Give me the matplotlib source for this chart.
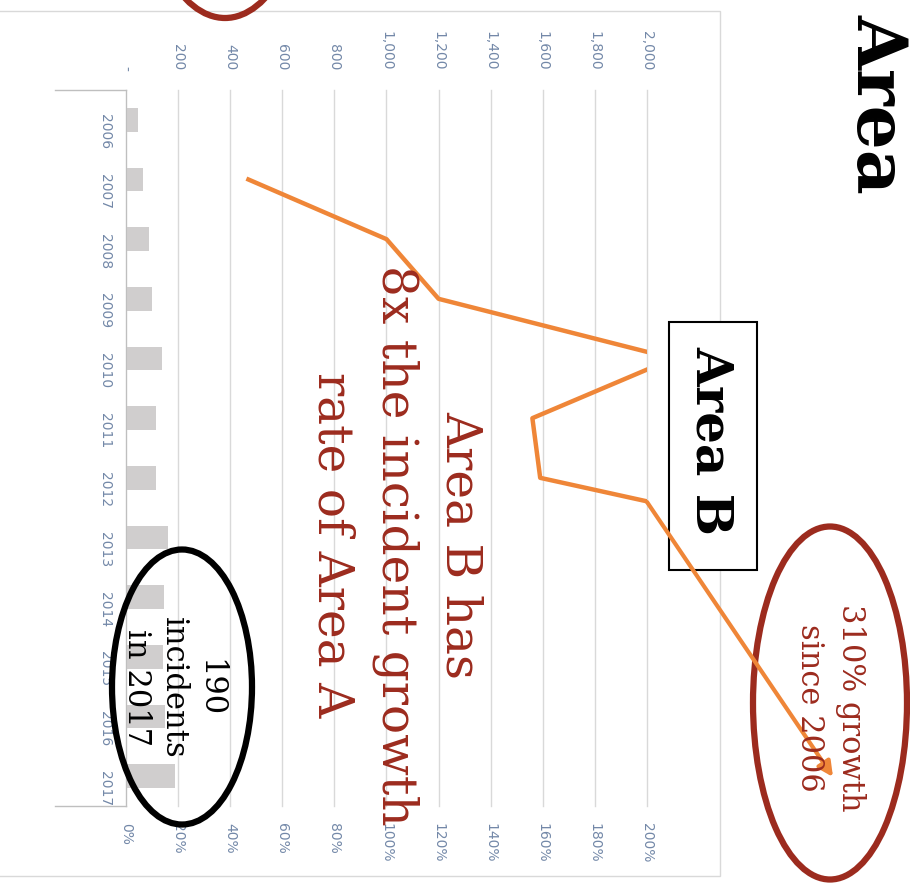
import numpy as np
import matplotlib
matplotlib.use("Agg")
import matplotlib.pyplot as plt
from matplotlib.patches import Ellipse, Rectangle, FancyArrowPatch

years = ["2006", "2007", "2008", "2009", "2010", "2011",
         "2012", "2013", "2014", "2015", "2016", "2017"]
incidents = [46, 65, 88, 100, 139, 117, 117, 163, 145, 142, 150, 190]
growth_pct = [np.nan, 47, 100, 120, 210, 156, 159, 263, 280, 290, 300, 310]

count_ticks = [0, 200, 400, 600, 800, 1000, 1200, 1400, 1600, 1800, 2000]
count_labels = ["-", "200", "400", "600", "800", "1,000", "1,200",
                "1,400", "1,600", "1,800", "2,000"]
pct_ticks = [0, 20, 40, 60, 80, 100, 120, 140, 160, 180, 200]
pct_labels = [f"{p}%" for p in pct_ticks]

orange = "#ef8638"
dark_red = "#9c2b1e"
tick_col = "#7388a8"
bar_col = "#d0cece"
grid_col = "#d9d9d9"

W, H = 910, 883
fig = plt.figure(figsize=(W / 100, H / 100), dpi=100)


def fx(px):
    return px / W


def fy(py):
    return 1 - py / H


# chart frame
fig.add_artist(Rectangle((fx(-5), fy(876)), fx(720) - fx(-5), (876 - 11) / H,
                         transform=fig.transFigure, fill=False,
                         ec=grid_col, lw=1))

ax = fig.add_axes([fx(126), fy(806), fx(647) - fx(126), (806 - 90) / H])
ypos = np.arange(len(years))
ax.barh(ypos, incidents, height=0.4, color=bar_col, zorder=2)
ax.set_xlim(0, 2000)
ax.set_ylim(len(years) - 0.5, -0.5)

# growth line on the percent axis
ax2 = ax.twiny()
ax2.plot(growth_pct, ypos, color=orange, lw=3.2, zorder=3)
ax2.set_xlim(0, 200)
ax2.xaxis.set_ticks_position("bottom")
ax2.set_xticks(pct_ticks)
ax2.set_xticklabels(pct_labels, rotation=-90)
ax2.tick_params(axis="x", length=0, pad=12, labelsize=10, labelcolor=tick_col,
                labelbottom=True, labeltop=False)
for s in ax2.spines.values():
    s.set_visible(False)

# count axis on top (after twiny, which resets it)
ax.xaxis.set_ticks_position("top")
ax.set_xticks(count_ticks)
ax.set_xticklabels(count_labels, rotation=-90)
ax.set_yticks(ypos)
ax.set_yticklabels(years, rotation=-90)
ax.tick_params(axis="x", length=0, pad=14, labelsize=10, labelcolor=tick_col,
               labeltop=True, labelbottom=False)
ax.tick_params(axis="y", length=0, pad=10, labelsize=10, labelcolor=tick_col)
ax.grid(axis="x", color=grid_col, lw=1)
for gl in ax.get_xgridlines():
    gl.set_clip_on(False)
ax.set_axisbelow(True)
for s in ["top", "right", "bottom"]:
    ax.spines[s].set_visible(False)
ax.spines["left"].set_color("#bfbfbf")
for yy in [0, 1]:
    ax.plot([-71 / 521, 0], [yy, yy], transform=ax.transAxes,
            clip_on=False, color="#bfbfbf", lw=1)

# slide annotations
fig.text(fx(877), fy(104), "Area", rotation=-90, ha="center", va="center",
         family="DejaVu Serif", weight="bold", fontsize=50, color="black")

fig.add_artist(Rectangle((fx(669), fy(570)), fx(757) - fx(669), (570 - 322) / H,
                         transform=fig.transFigure, fc="white", ec="black", lw=1.5))
fig.text(fx(710), fy(440), "Area B", rotation=-90, ha="center", va="center",
         family="DejaVu Serif", weight="bold", fontsize=36, color="black")

fig.text(fx(396), fy(545), "Area B has\n8x the incident growth\nrate of Area A",
         rotation=-90, ha="center", va="center", multialignment="center",
         family="DejaVu Serif", fontsize=35, color=dark_red, linespacing=1.45)

fig.add_artist(Ellipse((fx(830), fy(703)), 154 / W, 353 / H,
                       transform=fig.transFigure, fill=False, ec=dark_red, lw=4.5))
fig.text(fx(830), fy(708), "310% growth\nsince 2006", rotation=-90,
         ha="center", va="center", multialignment="center",
         family="DejaVu Serif", fontsize=22, color=dark_red, linespacing=1.4)

fig.add_artist(Ellipse((fx(225), fy(-142)), 166 / W, 320 / H,
                       transform=fig.transFigure, fill=False, ec=dark_red, lw=4.5))

fig.add_artist(Ellipse((fx(182), fy(687)), 140 / W, 275 / H,
                       transform=fig.transFigure, fill=False, ec="black", lw=4.5))
fig.text(fx(173), fy(688), "190\nincidents\nin 2017", rotation=-90,
         ha="center", va="center", multialignment="center",
         family="DejaVu Serif", fontsize=22, color="black", linespacing=1.25)

fig.add_artist(FancyArrowPatch((fx(647), fy(502)), (fx(833), fy(777)),
                               transform=fig.transFigure, arrowstyle="-|>",
                               mutation_scale=22, color=orange, lw=3,
                               shrinkA=0, shrinkB=0))

fig.savefig("out.png", dpi=100)
